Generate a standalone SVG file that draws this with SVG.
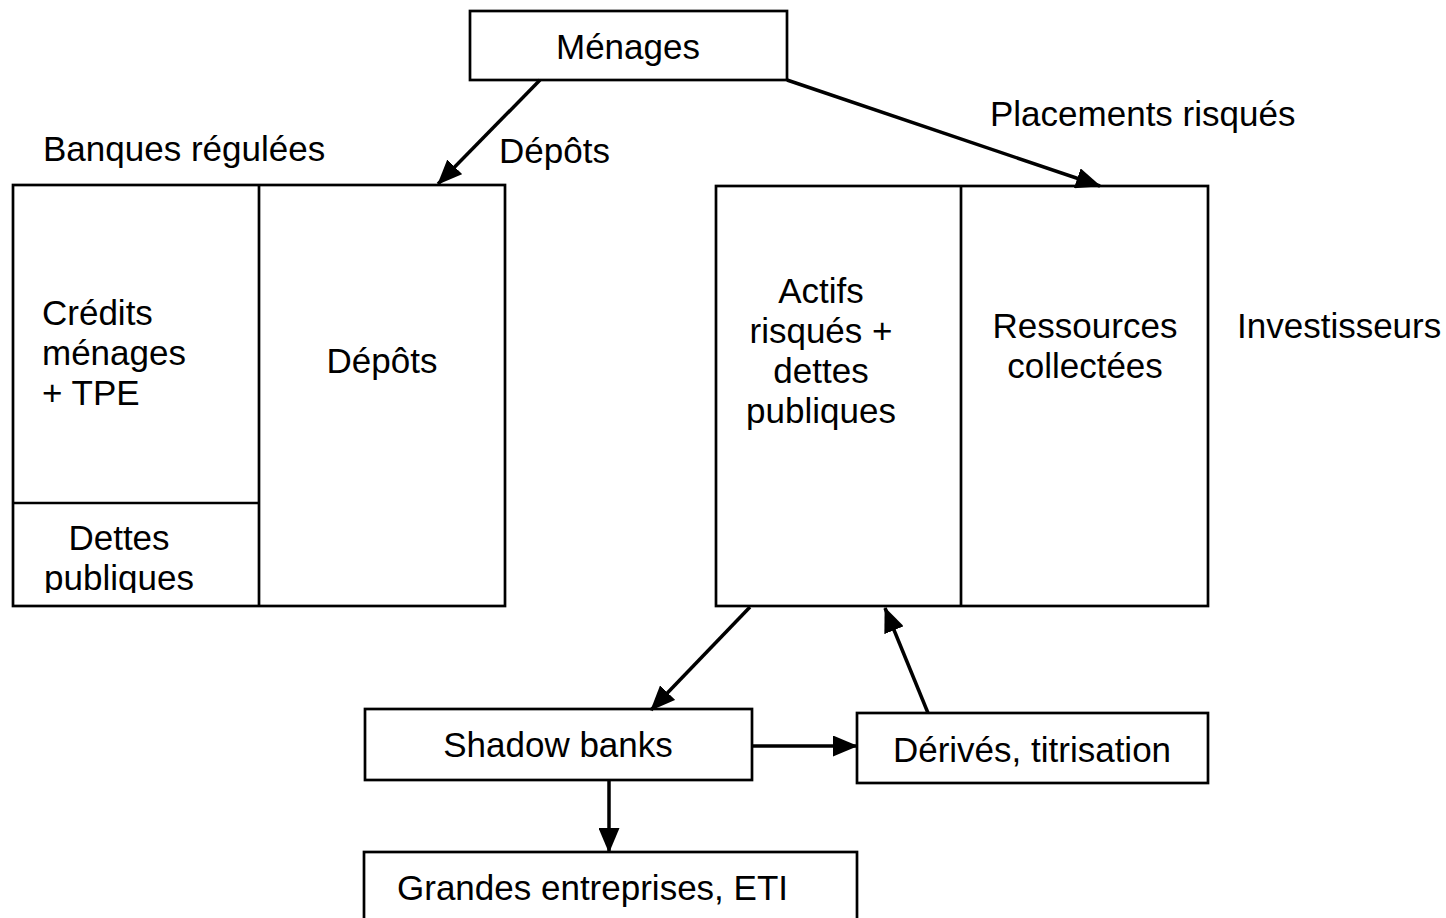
<svg xmlns="http://www.w3.org/2000/svg" width="1446" height="918" viewBox="0 0 1446 918">
<style>
.box{fill:#fff;stroke:#000;stroke-width:2.7}
.ln{fill:none;stroke:#000;stroke-width:2.7}
.t{font-family:"Liberation Sans",Arial,sans-serif;font-size:35px;fill:#000}
.c{text-anchor:middle}
.con{fill:none;stroke:#000;stroke-width:3.5;marker-end:url(#ah)}
</style>
<defs>
<marker id="ah" viewBox="0 0 25 21" refX="24" refY="10.5" markerWidth="25" markerHeight="21" markerUnits="userSpaceOnUse" orient="auto">
<path d="M0,0 L25,10.5 L0,21 Z" fill="#000"/>
</marker>
<clipPath id="clipDettes"><rect x="13" y="503" width="246" height="90"/></clipPath>
</defs>
<rect width="1446" height="918" fill="#fff"/>

<g id="menages">
<rect class="box" x="470" y="11" width="317" height="69"/>
<text class="t c" x="628" y="59">Ménages</text>
</g>

<g id="banques">
<text class="t" x="43" y="161">Banques régulées</text>
<rect class="box" x="13" y="185" width="492" height="421"/>
<line class="ln" x1="259" y1="185" x2="259" y2="606"/>
<line class="ln" x1="13" y1="503" x2="259" y2="503"/>
<text class="t" x="42" y="325">Crédits</text>
<text class="t" x="42" y="365">ménages</text>
<text class="t" x="42" y="405">+ TPE</text>
<text class="t c" x="382" y="373">Dépôts</text>
<g clip-path="url(#clipDettes)">
<text class="t c" x="119" y="550">Dettes</text>
<text class="t c" x="119" y="590">publiques</text>
</g>
</g>

<g id="investisseurs">
<rect class="box" x="716" y="186" width="492" height="420"/>
<line class="ln" x1="961" y1="186" x2="961" y2="606"/>
<text class="t c" x="821" y="303">Actifs</text>
<text class="t c" x="821" y="343">risqués +</text>
<text class="t c" x="821" y="383">dettes</text>
<text class="t c" x="821" y="423">publiques</text>
<text class="t c" x="1085" y="338">Ressources</text>
<text class="t c" x="1085" y="378">collectées</text>
<text class="t" x="1237" y="338">Investisseurs</text>
</g>

<g id="shadow">
<rect class="box" x="365" y="709" width="387" height="71"/>
<text class="t c" x="558" y="757">Shadow banks</text>
</g>

<g id="derives">
<rect class="box" x="857" y="713" width="351" height="70"/>
<text class="t c" x="1032" y="762">Dérivés, titrisation</text>
</g>

<g id="grandes">
<rect class="box" x="364" y="852" width="493" height="80"/>
<text class="t" x="397" y="900">Grandes entreprises, ETI</text>
</g>

<g id="connectors">
<line class="con" x1="540" y1="80" x2="438" y2="184"/>
<line class="con" x1="787" y1="80" x2="1100" y2="186"/>
<line class="con" x1="750" y1="607" x2="651" y2="710"/>
<line class="con" x1="928" y1="713" x2="885" y2="608"/>
<line class="con" x1="752" y1="746" x2="857" y2="746"/>
<line class="con" x1="609" y1="781" x2="609" y2="852"/>
</g>
<text class="t" x="499" y="163">Dépôts</text>
<text class="t" x="990" y="126">Placements risqués</text>
</svg>
